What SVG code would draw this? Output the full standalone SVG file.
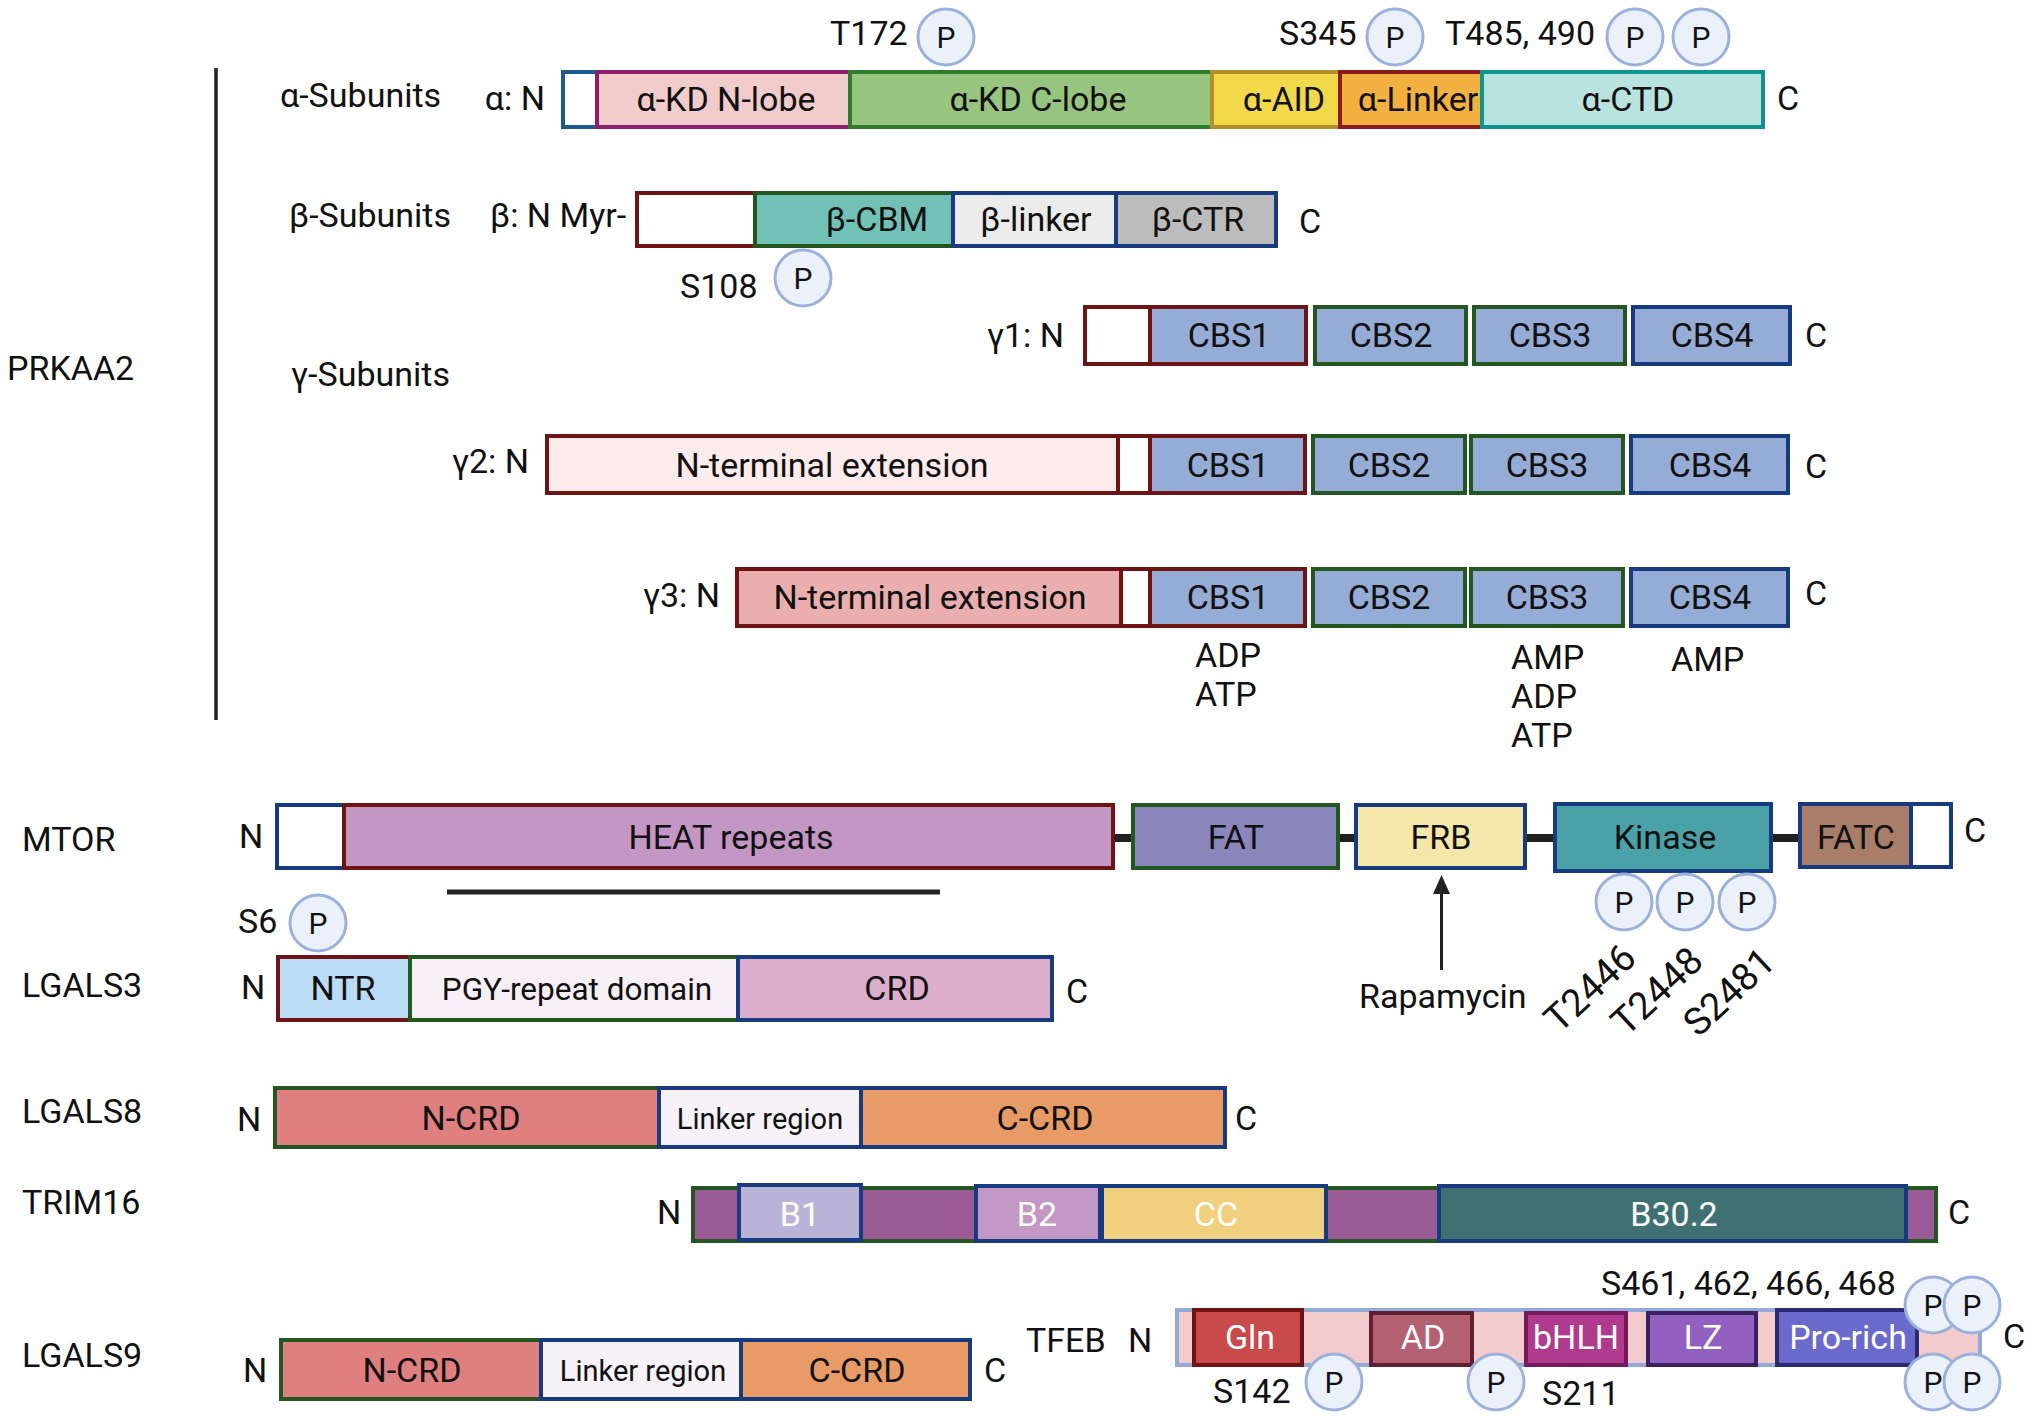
<svg xmlns="http://www.w3.org/2000/svg" width="2030" height="1421" viewBox="0 0 2030 1421">
<style>
text{font-family:Roboto,"Liberation Sans",sans-serif;font-size:34px;fill:#111}
.m{text-anchor:middle}
.e{text-anchor:end}
.w{fill:#fff}
.s29{font-size:29px}
.s31{font-size:31.5px}
.s38{font-size:38px}
rect{stroke-width:4}
.pc{fill:#eaf1fb;stroke:#9bb0dc;stroke-width:3}
.pt{font-size:30px;text-anchor:middle}
.dr{stroke:#6e1414}.dg{stroke:#24561f}.nv{stroke:#173a80}
.cbs{fill:#95acd6}
</style>
<defs>
<g id="pp"><circle class="pc" cx="0" cy="0" r="28"/><text class="pt" x="0" y="11">P</text></g>
</defs>
<rect width="2030" height="1421" fill="#fff" stroke="none"/>

<g id="labels">
<text x="7" y="380">PRKAA2</text>
<text x="280" y="107">α-Subunits</text>
<text x="289" y="227">β-Subunits</text>
<text x="291" y="386">γ-Subunits</text>
<text x="22" y="851">MTOR</text>
<text x="22" y="997">LGALS3</text>
<text x="22" y="1123">LGALS8</text>
<text x="22" y="1214">TRIM16</text>
<text x="22" y="1367">LGALS9</text>
</g>
<line x1="216" y1="68" x2="216" y2="720" stroke="#222" stroke-width="3.5"/>

<g id="alpha">
<text x="545" y="110" class="e">α: N</text>
<g id="a-n"><rect x="563" y="72" width="34" height="55" fill="#fff" stroke="#1d5a8f"/></g>
<g id="a-nlobe"><rect x="597" y="72" width="253" height="55" fill="#f2cbcb" stroke="#8e1f6c"/><text x="726" y="111" class="m">α-KD N-lobe</text></g>
<g id="a-clobe"><rect x="850" y="72" width="362" height="55" fill="#97c47e" stroke="#2f7d2a"/><text x="1038" y="111" class="m">α-KD C-lobe</text></g>
<g id="a-aid"><rect x="1212" y="72" width="128" height="55" fill="#f2d94a" stroke="#b4902b"/><text x="1284" y="111" class="m">α-AID</text></g>
<g id="a-linker"><rect x="1340" y="72" width="142" height="55" fill="#f2b040" stroke="#8b1a1a"/><text x="1418" y="111" class="m">α-Linker</text></g>
<g id="a-ctd"><rect x="1482" y="72" width="281" height="55" fill="#b8e3df" stroke="#0e9490"/><text x="1628" y="111" class="m">α-CTD</text></g>
<text x="1777" y="110">C</text>
<text x="830" y="45">T172</text>
<use href="#pp" x="946" y="37"/>
<text x="1279" y="45">S345</text>
<use href="#pp" x="1395" y="37"/>
<text x="1445" y="45">T485, 490</text>
<use href="#pp" x="1635" y="37"/>
<use href="#pp" x="1701" y="37"/>
</g>

<g id="beta">
<text x="490" y="227">β: N Myr-</text>
<g id="b-n"><rect x="637" y="193" width="118" height="53" fill="#fff" class="dr"/></g>
<g id="b-cbm"><rect x="755" y="193" width="198" height="53" fill="#72c1b6" class="dg"/><text x="877" y="231" class="m">β-CBM</text></g>
<g id="b-linker"><rect x="953" y="193" width="163" height="53" fill="#ebebeb" class="nv"/><text x="1036" y="231" class="m">β-linker</text></g>
<g id="b-ctr"><rect x="1116" y="193" width="160" height="53" fill="#bcbcbc" class="nv"/><text x="1198" y="231" class="m">β-CTR</text></g>
<text x="1299" y="233">C</text>
<text x="680" y="298">S108</text>
<use href="#pp" x="803" y="278"/>
</g>

<g id="gamma1">
<text x="1064" y="347" class="e">γ1: N</text>
<g id="g1-n"><rect x="1085" y="307" width="65" height="57" fill="#fff" class="dr"/></g>
<g id="g1-cbs1"><rect x="1150" y="307" width="156" height="57" class="cbs dr"/><text x="1229" y="347" class="m">CBS1</text></g>
<g id="g1-cbs2"><rect x="1315" y="307" width="151" height="57" class="cbs dg"/><text x="1391" y="347" class="m">CBS2</text></g>
<g id="g1-cbs3"><rect x="1474" y="307" width="151" height="57" class="cbs dg"/><text x="1550" y="347" class="m">CBS3</text></g>
<g id="g1-cbs4"><rect x="1633" y="307" width="157" height="57" class="cbs nv"/><text x="1712" y="347" class="m">CBS4</text></g>
<text x="1805" y="347">C</text>
</g>

<g id="gamma2">
<text x="529" y="473" class="e">γ2: N</text>
<g id="g2-ext"><rect x="547" y="436" width="571" height="57" fill="#fcebeb" class="dr"/><text x="832" y="477" class="m">N-terminal extension</text></g>
<g id="g2-n"><rect x="1118" y="436" width="32" height="57" fill="#fff" class="dr"/></g>
<g id="g2-cbs1"><rect x="1150" y="436" width="155" height="57" class="cbs dr"/><text x="1228" y="477" class="m">CBS1</text></g>
<g id="g2-cbs2"><rect x="1313" y="436" width="152" height="57" class="cbs dg"/><text x="1389" y="477" class="m">CBS2</text></g>
<g id="g2-cbs3"><rect x="1471" y="436" width="152" height="57" class="cbs dg"/><text x="1547" y="477" class="m">CBS3</text></g>
<g id="g2-cbs4"><rect x="1631" y="436" width="157" height="57" class="cbs nv"/><text x="1710" y="477" class="m">CBS4</text></g>
<text x="1805" y="478">C</text>
</g>

<g id="gamma3">
<text x="720" y="607" class="e">γ3: N</text>
<g id="g3-ext"><rect x="737" y="569" width="384" height="57" fill="#ebaeae" class="dr"/><text x="930" y="609" class="m">N-terminal extension</text></g>
<g id="g3-n"><rect x="1121" y="569" width="29" height="57" fill="#fff" class="dr"/></g>
<g id="g3-cbs1"><rect x="1150" y="569" width="155" height="57" class="cbs dr"/><text x="1228" y="609" class="m">CBS1</text></g>
<g id="g3-cbs2"><rect x="1313" y="569" width="152" height="57" class="cbs dg"/><text x="1389" y="609" class="m">CBS2</text></g>
<g id="g3-cbs3"><rect x="1471" y="569" width="152" height="57" class="cbs dg"/><text x="1547" y="609" class="m">CBS3</text></g>
<g id="g3-cbs4"><rect x="1631" y="569" width="157" height="57" class="cbs nv"/><text x="1710" y="609" class="m">CBS4</text></g>
<text x="1805" y="605">C</text>
<text x="1195" y="667">ADP</text>
<text x="1195" y="706">ATP</text>
<text x="1511" y="669">AMP</text>
<text x="1511" y="708">ADP</text>
<text x="1511" y="747">ATP</text>
<text x="1671" y="671">AMP</text>
</g>

<g id="connectors" stroke="#222">
<line x1="1113" y1="838" x2="1133" y2="838" stroke-width="8"/>
<line x1="1338" y1="838" x2="1356" y2="838" stroke-width="8"/>
<line x1="1525" y1="838" x2="1555" y2="838" stroke-width="8"/>
<line x1="1771" y1="838" x2="1800" y2="838" stroke-width="8"/>
<line x1="1441.5" y1="970" x2="1441.5" y2="890" stroke-width="3"/>
<polygon points="1441.5,875 1450,894 1433,894" fill="#222" stroke="none"/>
</g>

<g id="mtor">
<text x="239" y="848">N</text>
<g id="m-n"><rect x="277" y="805" width="67" height="63" fill="#fff" class="nv"/></g>
<g id="m-heat"><rect x="344" y="805" width="769" height="63" fill="#c396c4" class="dr"/><text x="731" y="849" class="m">HEAT repeats</text></g>
<g id="m-fat"><rect x="1133" y="805" width="205" height="63" fill="#8886bb" class="dg"/><text x="1236" y="849" class="m">FAT</text></g>
<g id="m-frb"><rect x="1356" y="805" width="169" height="63" fill="#f5e6aa" class="nv"/><text x="1441" y="849" class="m">FRB</text></g>
<g id="m-kinase"><rect x="1555" y="804" width="216" height="67" fill="#4aa1a8" class="nv"/><text x="1665" y="849" class="m">Kinase</text></g>
<g id="m-fatc"><rect x="1800" y="804" width="111" height="63" fill="#a87e6a" class="nv"/><text x="1856" y="849" class="m">FATC</text></g>
<g id="m-c"><rect x="1911" y="804" width="40" height="63" fill="#fff" class="nv"/></g>
<text x="1964" y="842">C</text>
<line x1="447" y1="892" x2="940" y2="892" stroke="#222" stroke-width="5"/>
<use href="#pp" x="1624" y="902"/>
<use href="#pp" x="1685" y="902"/>
<use href="#pp" x="1747" y="902"/>
<text x="1359" y="1008">Rapamycin</text>
<text transform="translate(1590,988) rotate(-43)" y="13" class="m s38">T2446</text>
<text transform="translate(1657,991) rotate(-43)" y="13" class="m s38">T2448</text>
<text transform="translate(1729,992) rotate(-43)" y="13" class="m s38">S2481</text>
</g>

<g id="lgals3">
<text x="238" y="933">S6</text>
<text x="241" y="999">N</text>
<g id="l3-ntr"><rect x="278" y="957" width="132" height="63" fill="#badcf5" class="dr"/><text x="343" y="1000" class="m">NTR</text></g>
<g id="l3-pgy"><rect x="410" y="957" width="328" height="63" fill="#f6f0f6" class="dg"/><text x="577" y="1000" class="m s31">PGY-repeat domain</text></g>
<g id="l3-crd"><rect x="738" y="957" width="314" height="63" fill="#dcaecb" class="nv"/><text x="897" y="1000" class="m">CRD</text></g>
<text x="1066" y="1003">C</text>
<use href="#pp" x="318" y="923"/>
</g>

<g id="lgals8">
<text x="237" y="1131">N</text>
<g id="l8-ncrd"><rect x="275" y="1088" width="384" height="59" fill="#e07f80" class="dg"/><text x="471" y="1130" class="m">N-CRD</text></g>
<g id="l8-linker"><rect x="659" y="1088" width="202" height="59" fill="#f6f2f7" class="nv"/><text x="760" y="1129" class="m s29">Linker region</text></g>
<g id="l8-ccrd"><rect x="861" y="1088" width="364" height="59" fill="#e89b66" class="nv"/><text x="1045" y="1130" class="m">C-CRD</text></g>
<text x="1235" y="1130">C</text>
</g>

<g id="trim16">
<text x="657" y="1224">N</text>
<g id="t-bar"><rect x="693" y="1188" width="1243" height="53" fill="#9b5b97" class="dg"/></g>
<g id="t-b1"><rect x="739" y="1185" width="122" height="55" fill="#bab3d8" class="nv"/><text x="800" y="1226" class="m w">B1</text></g>
<g id="t-b2"><rect x="976" y="1186" width="124" height="55" fill="#c398c5" class="nv"/><text x="1037" y="1226" class="m w">B2</text></g>
<g id="t-cc"><rect x="1102" y="1186" width="224" height="55" fill="#f0d07e" class="nv"/><text x="1216" y="1226" class="m w">CC</text></g>
<g id="t-b30"><rect x="1439" y="1186" width="467" height="55" fill="#3f7173" class="nv"/><text x="1674" y="1226" class="m w">B30.2</text></g>
<text x="1948" y="1224">C</text>
</g>

<g id="lgals9">
<text x="243" y="1382">N</text>
<g id="l9-ncrd"><rect x="281" y="1340" width="260" height="59" fill="#e07f80" class="dg"/><text x="412" y="1382" class="m">N-CRD</text></g>
<g id="l9-linker"><rect x="541" y="1340" width="200" height="59" fill="#f6f2f7" class="nv"/><text x="643" y="1381" class="m s29">Linker region</text></g>
<g id="l9-ccrd"><rect x="741" y="1340" width="229" height="59" fill="#e89b66" class="nv"/><text x="857" y="1382" class="m">C-CRD</text></g>
<text x="984" y="1382">C</text>
</g>

<g id="tfeb">
<text x="1026" y="1352">TFEB</text>
<text x="1128" y="1352">N</text>
<g id="tf-bar"><rect x="1177" y="1310" width="803" height="55" fill="#f2cccc" stroke="#93aad9"/></g>
<g id="tf-gln"><rect x="1194" y="1310" width="108" height="55" fill="#c84a4a" stroke="#6e1414"/><text x="1250" y="1349" class="m w">Gln</text></g>
<g id="tf-ad"><rect x="1371" y="1313" width="101" height="52" fill="#b36070" stroke="#5e2032"/><text x="1423" y="1349" class="m w">AD</text></g>
<g id="tf-bhlh"><rect x="1526" y="1313" width="100" height="52" fill="#b03a8e" stroke="#7a1a5e"/><text x="1576" y="1349" class="m w">bHLH</text></g>
<g id="tf-lz"><rect x="1648" y="1313" width="108" height="52" fill="#9160c0" stroke="#3a2060"/><text x="1703" y="1349" class="m w">LZ</text></g>
<g id="tf-pro"><rect x="1777" y="1310" width="140" height="55" fill="#6a6acc" stroke="#2a2a70"/><text x="1848" y="1349" class="m w">Pro-rich</text></g>
<text x="2003" y="1348">C</text>
<text x="1601" y="1295">S461, 462, 466, 468</text>
<text x="1213" y="1403">S142</text>
<text x="1542" y="1405">S211</text>
<use href="#pp" x="1334" y="1382"/>
<use href="#pp" x="1496" y="1382"/>
<use href="#pp" x="1933" y="1305"/>
<use href="#pp" x="1972" y="1305"/>
<use href="#pp" x="1933" y="1382"/>
<use href="#pp" x="1972" y="1382"/>
</g>
</svg>
